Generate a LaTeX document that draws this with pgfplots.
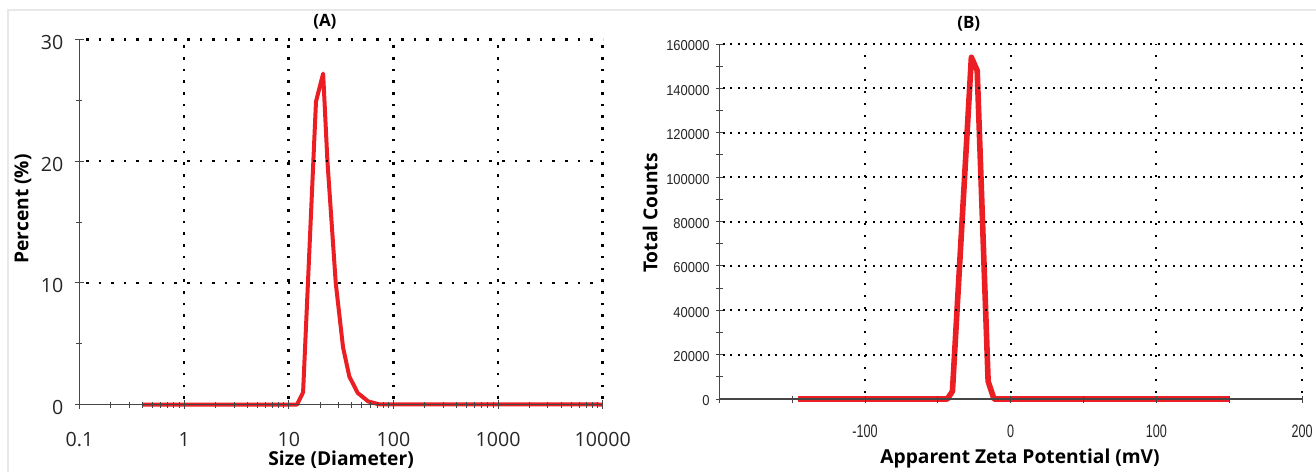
\documentclass[border=0pt]{standalone}
\usepackage{pgfplots}
\pgfplotsset{compat=1.18}
\usepackage{fontspec}
\setmainfont{Open Sans}
\newfontfamily\narrowy[FakeStretch=0.9]{Liberation Sans}
\newfontfamily\narrowx[FakeStretch=0.7]{Liberation Sans}
\definecolor{zred}{RGB}{235,30,35}
\definecolor{axgray}{RGB}{70,70,70}

\begin{document}
\begin{tikzpicture}
\useasboundingbox (0,0) rectangle (658pt,236pt);
\draw[black!9, line width=0.6pt] (4pt,0) -- (4pt,231pt) -- (658pt,231pt);

% ---------------- Panel A ----------------
\begin{axis}[
  at={(39.75pt,33.75pt)}, anchor=south west,
  scale only axis, width=261.6pt, height=182.5pt,
  xmode=log, xmin=0.1, xmax=10000, ymin=0, ymax=30,
  axis lines=left, axis line style={-, axgray, line width=0.6pt},
  axis on top, clip=false,
  /pgf/number format/assume math mode=true,
  xtick={1,10,100,1000,10000},
  xticklabels={1,10,100,1000,10000},
  extra x ticks={0.1}, extra x tick labels={0.1}, extra x tick style={grid=none},
  minor xtick={0.2,0.3,0.4,0.5,0.6,0.7,0.8,0.9,2,3,4,5,6,7,8,9,20,30,40,50,60,70,80,90,200,300,400,500,600,700,800,900,2000,3000,4000,5000,6000,7000,8000,9000},
  ytick={10,20,30}, yticklabels={10,20,30},
  minor ytick={5,15,25},
  extra y ticks={0}, extra y tick labels={0}, extra y tick style={grid=none},
  xmajorgrids, ymajorgrids,
  major x grid style={black, line width=1.3pt, dash pattern=on 1.3pt off 4.55pt, dash phase=3pt},
  major y grid style={black, line width=1.3pt, dash pattern=on 1.3pt off 5pt, dash phase=3pt},
  tick align=center, major tick length=4.5pt, minor tick length=3pt,
  every tick/.style={axgray, line width=0.5pt},
  tick label style={font=\fontsize{9.8}{11}\selectfont, text=black!85},
  xticklabel style={anchor=center, yshift=-15.4pt, inner sep=0pt},
  yticklabel style={anchor=east, xshift=-5.6pt, yshift=-1.5pt, inner sep=0pt},
  xlabel={Size (Diameter)}, ylabel={Percent (\%)},
  xlabel style={at={(axis description cs:0.5,-0.152)}, anchor=center, font=\bfseries\fontsize{9.6}{11}\selectfont},
  ylabel style={at={(axis description cs:-0.108,0.536)}, anchor=center, font=\bfseries\fontsize{9.6}{11}\selectfont},
  title={(A)},
  title style={at={(axis description cs:0.469,1.048)}, anchor=center, yshift=-6pt, font=\bfseries\fontsize{8.5}{10}\selectfont},
]
\addplot[zred, line width=2pt, line join=round, mark=none] table {
x y
0.4 0
12.0 0
13.7 1.0
18.2 24.9
21.3 27.2
23.4 20
28.1 10
33.0 4.7
37.9 2.3
45.6 0.95
57.5 0.25
72.6 0.02
10000 0
};
\end{axis}

% ---------------- Panel B ----------------
\begin{axis}[
  at={(359.7pt,36.5pt)}, anchor=south west,
  scale only axis, width=291.3pt, height=177.5pt,
  xmin=-200, xmax=200, ymin=0, ymax=160000,
  axis lines=left, axis line style={-, axgray, line width=0.6pt},
  axis on top, clip=false,
  scaled y ticks=false, scaled x ticks=false,
  /pgf/number format/assume math mode=true,
  xtick={-100,0,100,200}, xticklabels={-100,0,100,200},
  extra x ticks={-200}, extra x tick labels={{}}, extra x tick style={grid=none},
  minor xtick={-150,-50,50,150},
  ytick={20000,40000,60000,80000,100000,120000,140000,160000},
  yticklabels={20000,40000,60000,80000,100000,120000,140000,160000},
  minor ytick={10000,30000,50000,70000,90000,110000,130000,150000},
  extra y ticks={0}, extra y tick labels={0}, extra y tick style={grid=none},
  xmajorgrids, ymajorgrids,
  major x grid style={black, line width=1pt, dash pattern=on 1pt off 5pt, dash phase=3pt},
  major y grid style={black, line width=1pt, dash pattern=on 1pt off 2.75pt, dash phase=2pt},
  tick align=center, major tick length=3.5pt, minor tick length=3.5pt,
  every tick/.style={axgray, line width=0.5pt},
  xticklabel style={font=\narrowx\fontsize{9}{10}\selectfont, text=black!85, anchor=center, yshift=-14.5pt, inner sep=0pt},
  yticklabel style={font=\narrowy\fontsize{7.2}{8}\selectfont, text=black!85, anchor=east, xshift=-3pt, yshift=-1pt, inner sep=0pt},
  xlabel={Apparent Zeta Potential (mV)}, ylabel={Total Counts},
  xlabel style={at={(axis description cs:0.516,-0.169)}, anchor=center, font=\bfseries\fontsize{9.6}{11}\selectfont},
  ylabel style={at={(axis description cs:-0.119,0.524)}, anchor=center, font=\bfseries\fontsize{9.6}{11}\selectfont},
  title={(B)},
  title style={at={(axis description cs:0.428,1.056)}, anchor=center, yshift=-6pt, font=\bfseries\fontsize{8.5}{10}\selectfont},
]
\addplot[zred, line width=2.8pt, line join=round, mark=none] table {
x y
-146 0
-43.5 0
-40 3500
-27 154000
-23 148000
-15.5 8000
-11.5 0
150 0
};
\end{axis}
\end{tikzpicture}
\end{document}
